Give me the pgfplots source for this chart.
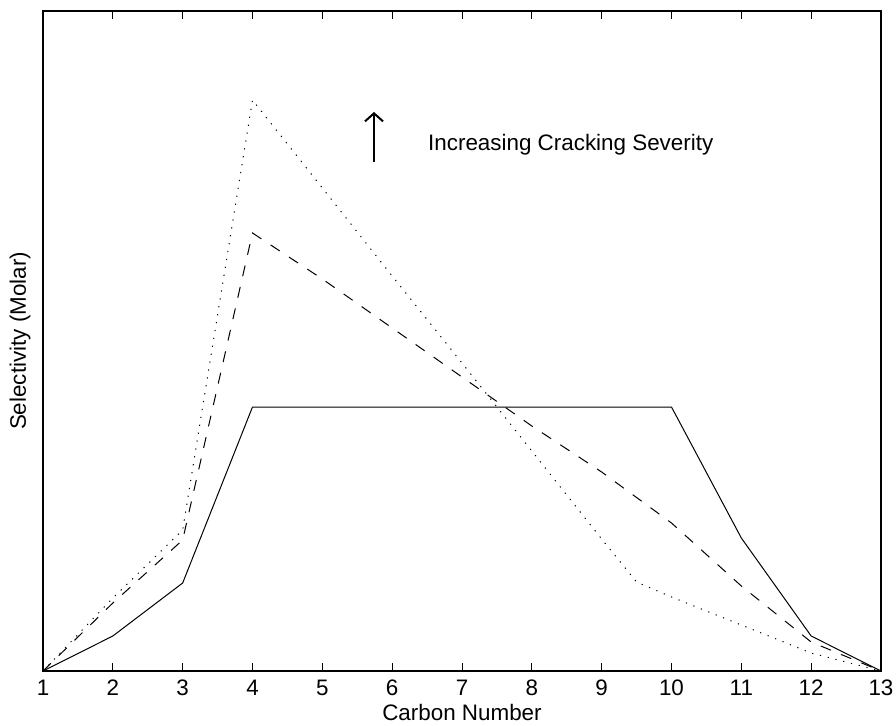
\documentclass[border=0pt]{standalone}
\usepackage{pgfplots}
\pgfplotsset{compat=1.18}
\usepackage{fontspec}
\setmainfont{Liberation Sans}
\usetikzlibrary{arrows.meta}

\begin{document}
\begin{tikzpicture}
\useasboundingbox (-21.5pt,-27pt) rectangle (426.5pt,335.5pt);
\begin{axis}[at={(0,0)}, anchor=south west,
  scale only axis, width=419pt, height=330pt,
  xmin=1, xmax=13, ymin=0, ymax=660,
  xtick={1,2,...,13}, ytick=\empty,
  tick align=inside, major tick length=4pt,
  tick style={black, line width=0.4pt},
  axis line style={line width=0.8pt},
  /pgf/number format/assume math mode=true,
  tick label style={font=\fontsize{11.2}{13}\selectfont},
  xticklabel style={yshift=-1pt},
  label style={font=\fontsize{11.2}{13}\selectfont},
  xlabel={Carbon Number},
  xlabel style={at={(axis description cs:0.5,0)}, anchor=center, yshift=-20.5pt},
  ylabel={Selectivity (Molar)},
  ylabel style={at={(axis description cs:0,0.5)}, anchor=center, yshift=11.5pt},
  clip=false]
  % solid: lowest severity
  \addplot[black, line width=0.5pt] coordinates {
    (1,0) (2,35) (3,88) (4,264) (10,264) (11,133) (12,35) (13,0)
  };
  % dashed
  \addplot[black, line width=0.5pt, dash pattern=on 5.5pt off 5.5pt] coordinates {
    (1,0) (2,68) (3,131) (4,438) (5,392) (6,343) (7,294) (8,245)
    (9,199) (10,148) (11,85) (12,29) (13,0)
  };
  % dotted: highest severity
  \addplot[black, line width=0.5pt, dash pattern=on 0.6pt off 3.4pt] coordinates {
    (1,0) (2,73) (3,141) (4,571) (5,483) (6,395) (7,308) (8,220)
    (9,132) (9.5,89) (10,74) (10.5,60) (11,46) (12,18) (13,0)
  };
  \draw[line width=1pt, -{Straight Barb[length=4pt, width=9pt]}]
    (axis cs:5.74,509) -- (axis cs:5.74,559);
  \node[anchor=west, inner sep=0pt, font=\fontsize{11.2}{13}\selectfont]
    at (axis cs:6.51,526) {Increasing Cracking Severity};
\end{axis}
\end{tikzpicture}
\end{document}
